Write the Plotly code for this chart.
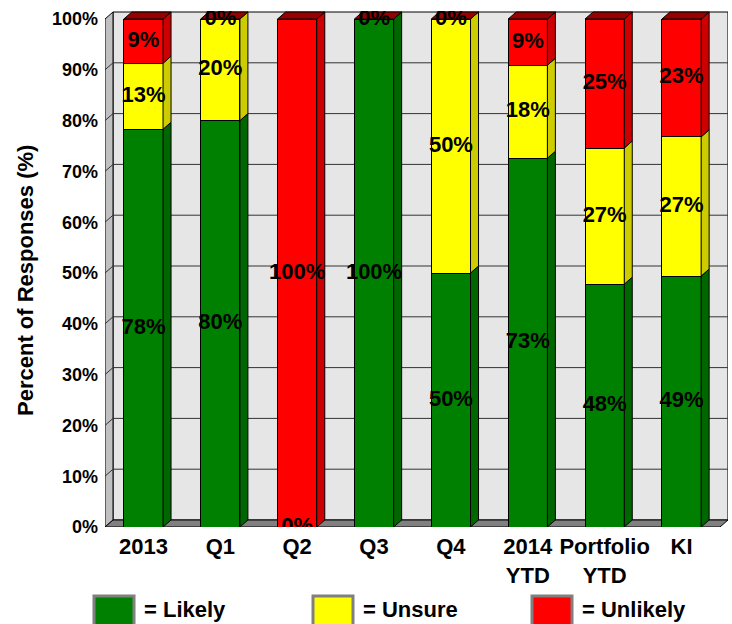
import plotly.graph_objects as go

categories = ["2013", "Q1", "Q2", "Q3", "Q4", "2014<br>YTD", "Portfolio<br>YTD", "KI"]
likely = [78.3, 80, 0, 100, 50, 72.6, 47.8, 49.4]
unsure = [13.0, 20, 0, 0, 50, 18.3, 26.8, 27.4]
unlikely = [8.7, 0, 100, 0, 0, 9.1, 25.4, 23.2]
series_names = ["Likely", "Unsure", "Unlikely"]
y_ticks = [0, 10, 20, 30, 40, 50, 60, 70, 80, 90, 100]

front_colors = ["#008000", "#FFFF00", "#FF0000"]
side_colors = ["#006600", "#CCCC00", "#CC0000"]
top_color = "#990000"

W, H = 732, 624
ML, MR, MT, MB = 105, 4, 11, 97
plot_w = W - ML - MR
plot_h = H - MT - MB
px_per_cat = 76.87
px_per_pct = 5.08
x_range = [-0.5, -0.5 + plot_w / px_per_cat]
y_range = [0, plot_h / px_per_pct]
dx = 8 / px_per_cat
dy = 7 / px_per_pct
bw = 0.51
n = len(categories)
xs = list(range(n))
FONT = "Liberation Sans, Arial, sans-serif"

fig = go.Figure()
series = [likely, unsure, unlikely]

# front faces
for name, vals, col in zip(series_names, series, front_colors):
    fig.add_trace(go.Bar(x=xs, y=vals, name=name, width=bw,
                         marker=dict(color=col, line=dict(color="black", width=1)),
                         showlegend=False, hoverinfo="skip"))

# side faces
bases = [0.0] * n
for vals, col in zip(series, side_colors):
    px, py = [], []
    for i in range(n):
        b, t = bases[i], bases[i] + vals[i]
        if vals[i] > 0:
            x0 = i + bw / 2
            px += [x0, x0 + dx, x0 + dx, x0, x0, None]
            py += [b, b + dy, t + dy, t, b, None]
        bases[i] = t
    fig.add_trace(go.Scatter(x=px, y=py, mode="lines", fill="toself", fillcolor=col,
                             line=dict(color="black", width=1), showlegend=False, hoverinfo="skip"))

# top faces
px, py = [], []
for i in range(n):
    T = bases[i]
    px += [i - bw / 2, i + bw / 2, i + bw / 2 + dx, i - bw / 2 + dx, i - bw / 2, None]
    py += [T, T, T + dy, T + dy, T, None]
fig.add_trace(go.Scatter(x=px, y=py, mode="lines", fill="toself", fillcolor=top_color,
                         line=dict(color="black", width=1), showlegend=False, hoverinfo="skip"))

# data labels (identical labels at the same spot are drawn once)
lx, ly, lt = [], [], []
seen = set()
bases = [0.0] * n
for vals in series:
    for i in range(n):
        yc = bases[i] + vals[i] / 2
        txt = f"{vals[i]:.0f}%"
        key = (i, round(yc, 3), txt)
        if key not in seen:
            seen.add(key)
            lx.append(i)
            ly.append(yc)
            lt.append(txt)
        bases[i] += vals[i]
fig.add_trace(go.Scatter(x=lx, y=ly, text=lt, mode="text", textposition="middle center",
                         textfont=dict(family=FONT, size=22, color="black", weight="bold"),
                         showlegend=False, hoverinfo="skip"))

# walls, floor, gridlines
shapes = []
xl, xr = -0.5, n - 0.5
shapes.append(dict(type="rect", xref="x", yref="y", x0=xl + dx, x1=xr + dx, y0=dy, y1=100 + dy,
                   fillcolor="#E6E6E6", line=dict(color="black", width=1), layer="below"))
shapes.append(dict(type="path", xref="x", yref="y",
                   path=f"M {xl},0 L {xl},100 L {xl+dx},{100+dy} L {xl+dx},{dy} Z",
                   fillcolor="#C0C0C0", line=dict(color="black", width=1), layer="below"))
shapes.append(dict(type="path", xref="x", yref="y",
                   path=f"M {xl},0 L {xr},0 L {xr+dx},{dy} L {xl+dx},{dy} Z",
                   fillcolor="#808080", line=dict(color="black", width=1), layer="below"))
for yv in y_ticks[1:-1]:
    shapes.append(dict(type="line", xref="x", yref="y", x0=xl + dx, x1=xr + dx, y0=yv + dy, y1=yv + dy,
                       line=dict(color="#333333", width=1), layer="below"))
    shapes.append(dict(type="line", xref="x", yref="y", x0=xl, x1=xl + dx, y0=yv, y1=yv + dy,
                       line=dict(color="#333333", width=1), layer="below"))

# legend (manual)
def px2paper_x(p):
    return (p - ML) / plot_w

def px2paper_y(p):
    return (H - MB - p) / plot_h

annotations = []
leg_box_x = [93, 312, 531]
for k, (name, col) in enumerate(zip(series_names, front_colors)):
    bx = leg_box_x[k]
    shapes.append(dict(type="rect", xref="paper", yref="paper",
                       x0=px2paper_x(bx + 1), x1=px2paper_x(bx + 41),
                       y0=px2paper_y(628), y1=px2paper_y(596),
                       fillcolor=col, line=dict(color="#808080", width=3)))
    annotations.append(dict(xref="paper", yref="paper", x=px2paper_x(bx + 49), y=px2paper_y(609),
                            xanchor="left", yanchor="middle", showarrow=False, text="= " + name,
                            font=dict(family=FONT, size=22, color="black", weight="bold")))

annotations.append(dict(xref="paper", yref="paper", x=px2paper_x(25), y=px2paper_y(281),
                        xanchor="center", yanchor="middle", showarrow=False, textangle=-90,
                        text="Percent of Responses (%)",
                        font=dict(family=FONT, size=22, color="black", weight="bold")))

fig.update_layout(
    barmode="stack",
    width=W, height=H,
    margin=dict(l=ML, r=MR, t=MT, b=MB, pad=0),
    paper_bgcolor="white", plot_bgcolor="white",
    shapes=shapes, annotations=annotations,
    showlegend=False,
    xaxis=dict(range=x_range, tickmode="array", tickvals=xs, ticktext=categories,
               showgrid=False, zeroline=False, showline=False, ticks="",
               tickfont=dict(family=FONT, size=22, color="black", weight="bold"),
               ticklabelstandoff=4),
    yaxis=dict(range=y_range, tickmode="array", tickvals=y_ticks,
               ticktext=[f"{v}%" for v in y_ticks],
               showgrid=False, zeroline=False, showline=False, ticks="",
               tickfont=dict(family=FONT, size=18, color="black", weight="bold"),
               ticklabelstandoff=6),
)

fig.write_html("out.html")
